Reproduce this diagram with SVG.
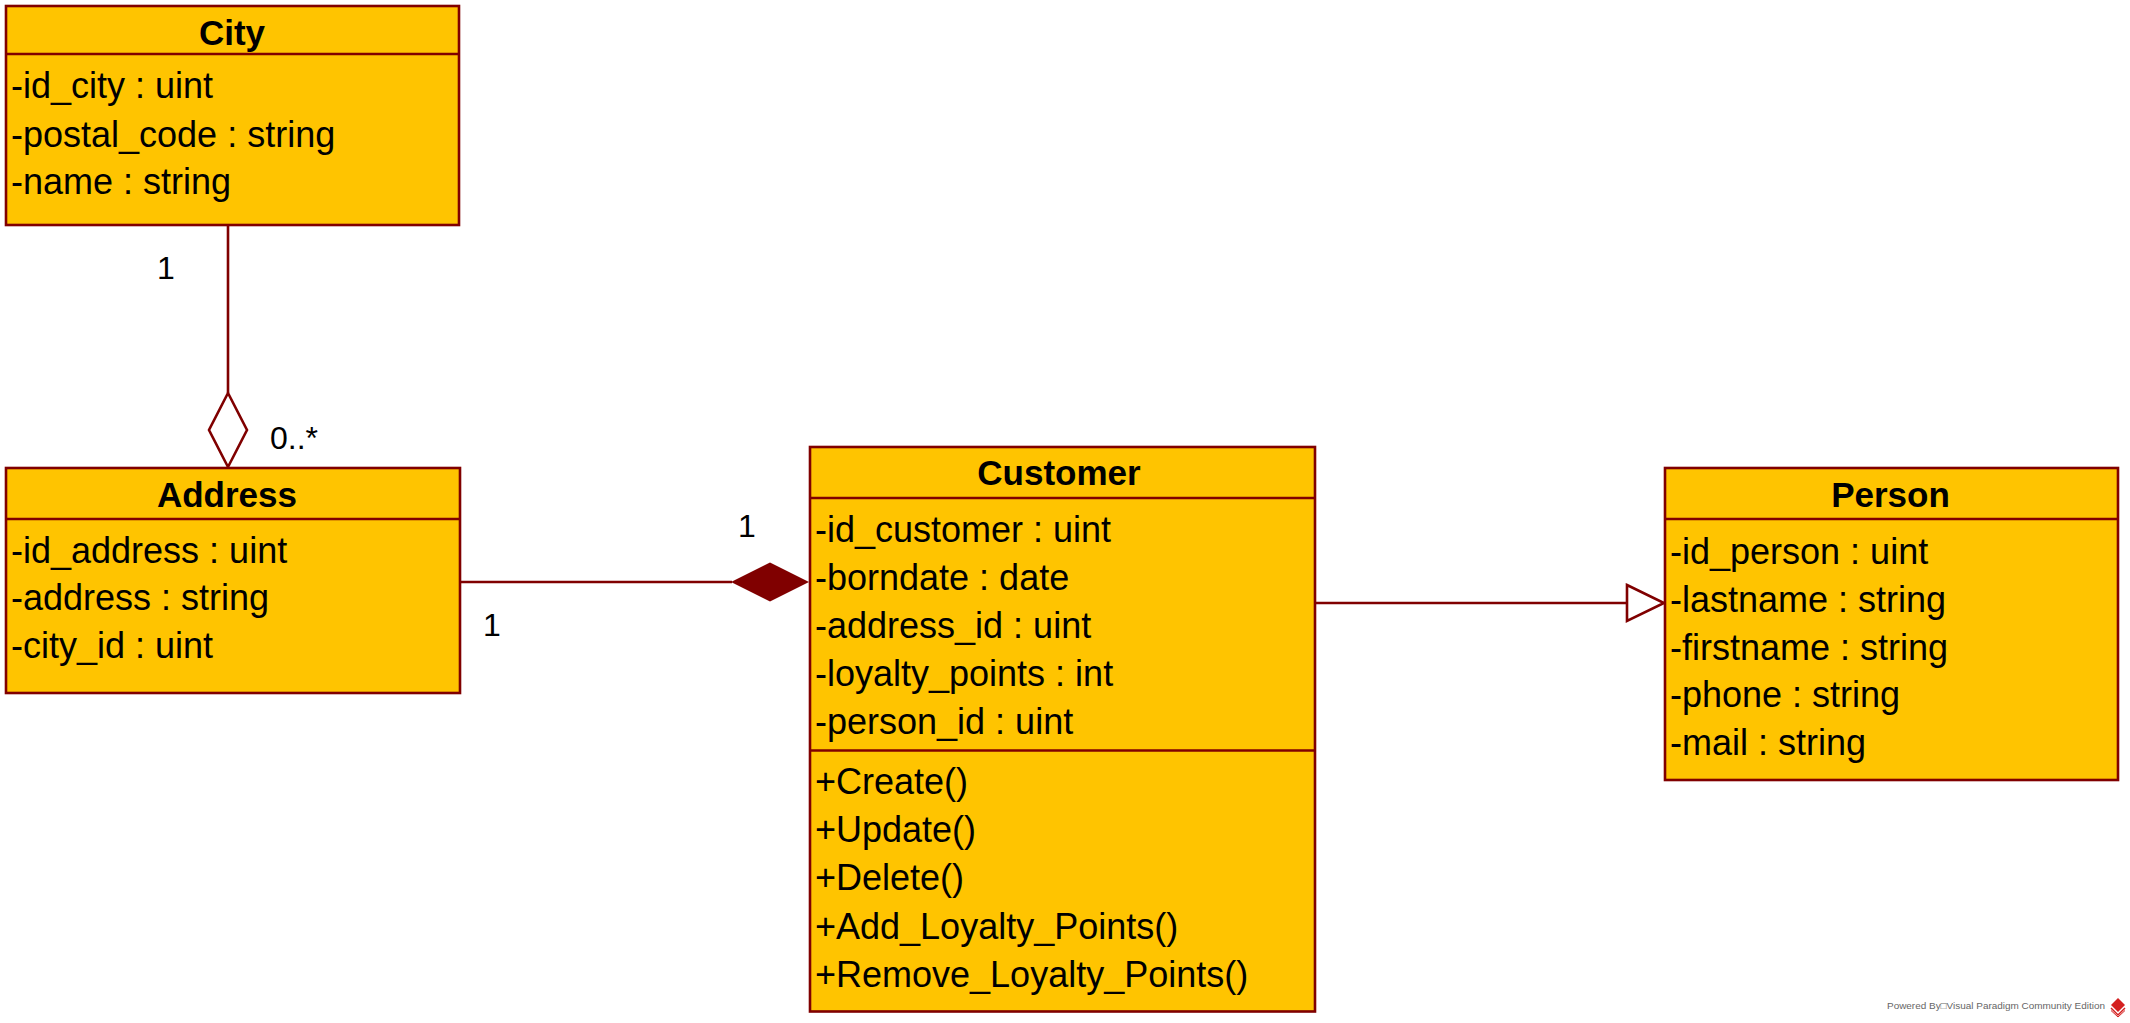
<svg xmlns="http://www.w3.org/2000/svg" width="2130" height="1023" viewBox="0 0 2130 1023">
  <style>
    .box { fill: #FFC400; stroke: #800000; stroke-width: 2.6; }
    .div { stroke: #800000; stroke-width: 2.6; fill: none; }
    .title { font-family: "Liberation Sans", Arial, sans-serif; font-weight: bold; font-size: 35px; fill: #000; text-anchor: middle; }
    .attr { font-family: "Liberation Sans", Arial, sans-serif; font-size: 36px; fill: #000; }
    .lbl { font-family: "Liberation Sans", Arial, sans-serif; font-size: 32px; fill: #000; }
    .conn { stroke: #800000; stroke-width: 2.6; fill: none; }
    .hollow { stroke: #800000; stroke-width: 2.6; fill: #FFFFFF; stroke-linejoin: miter; }
    .filled { stroke: none; fill: #800000; }
    .wm { font-family: "Liberation Sans", Arial, sans-serif; font-size: 9.5px; fill: #666666; }
  </style>
  <rect x="0" y="0" width="2130" height="1023" fill="#FFFFFF"/>

  <g id="connectors">
    <!-- City - Address aggregation -->
    <line class="conn" x1="228" y1="225" x2="228" y2="393"/>
    <polygon class="hollow" points="228,393 247,430 228,467 209,430"/>
    <!-- Address - Customer composition -->
    <line class="conn" x1="460" y1="582" x2="732" y2="582"/>
    <polygon class="filled" points="731,582 770,562.5 809,582 770,601.5"/>
    <!-- Customer - Person generalization -->
    <line class="conn" x1="1315" y1="603" x2="1627" y2="603"/>
    <polygon class="hollow" points="1627,585 1664,603 1627,621"/>
    <!-- multiplicity labels -->
    <text class="lbl" x="157" y="279">1</text>
    <text class="lbl" x="270" y="449">0..*</text>
    <text class="lbl" x="738" y="537">1</text>
    <text class="lbl" x="483" y="636">1</text>
  </g>

  <g id="city">
    <rect class="box" x="6" y="6" width="453" height="219"/>
    <line class="div" x1="6" y1="54" x2="459" y2="54"/>
    <text class="title" x="232" y="45">City</text>
    <text class="attr" x="11" y="98">-id_city : uint</text>
    <text class="attr" x="11" y="146.5">-postal_code : string</text>
    <text class="attr" x="11" y="194">-name : string</text>
  </g>

  <g id="address">
    <rect class="box" x="6" y="468" width="454" height="225"/>
    <line class="div" x1="6" y1="519" x2="460" y2="519"/>
    <text class="title" x="227" y="506.5">Address</text>
    <text class="attr" x="11" y="562.5">-id_address : uint</text>
    <text class="attr" x="11" y="610">-address : string</text>
    <text class="attr" x="11" y="657.5">-city_id : uint</text>
  </g>

  <g id="customer">
    <rect class="box" x="810" y="447" width="505" height="564.5"/>
    <line class="div" x1="810" y1="498" x2="1315" y2="498"/>
    <line class="div" x1="810" y1="750.5" x2="1315" y2="750.5"/>
    <text class="title" x="1059" y="485">Customer</text>
    <text class="attr" x="815" y="541.5">-id_customer : uint</text>
    <text class="attr" x="815" y="589.5">-borndate : date</text>
    <text class="attr" x="815" y="637.5">-address_id : uint</text>
    <text class="attr" x="815" y="686">-loyalty_points : int</text>
    <text class="attr" x="815" y="733.5">-person_id : uint</text>
    <text class="attr" x="815" y="793.5">+Create()</text>
    <text class="attr" x="815" y="841.5">+Update()</text>
    <text class="attr" x="815" y="890">+Delete()</text>
    <text class="attr" x="815" y="938.5">+Add_Loyalty_Points()</text>
    <text class="attr" x="815" y="986.5">+Remove_Loyalty_Points()</text>
  </g>

  <g id="person">
    <rect class="box" x="1665" y="468" width="453" height="312"/>
    <line class="div" x1="1665" y1="519" x2="2118" y2="519"/>
    <text class="title" x="1890.5" y="506.5">Person</text>
    <text class="attr" x="1670" y="563.5">-id_person : uint</text>
    <text class="attr" x="1670" y="611.5">-lastname : string</text>
    <text class="attr" x="1670" y="659.5">-firstname : string</text>
    <text class="attr" x="1670" y="706.5">-phone : string</text>
    <text class="attr" x="1670" y="755">-mail : string</text>
  </g>

  <g id="watermark">
    <text class="wm" x="1887" y="1009" textLength="218" lengthAdjust="spacingAndGlyphs">Powered By□Visual Paradigm Community Edition</text>
    <polygon points="2118,998 2125,1005 2118,1012 2111,1005" fill="#D42020"/>
    <polyline points="2111,1008 2118,1015 2125,1008" fill="none" stroke="#D42020" stroke-width="1.5"/>
    <polyline points="2111,1010.5 2118,1017 2125,1010.5" fill="none" stroke="#D42020" stroke-width="1"/>
  </g>
</svg>
